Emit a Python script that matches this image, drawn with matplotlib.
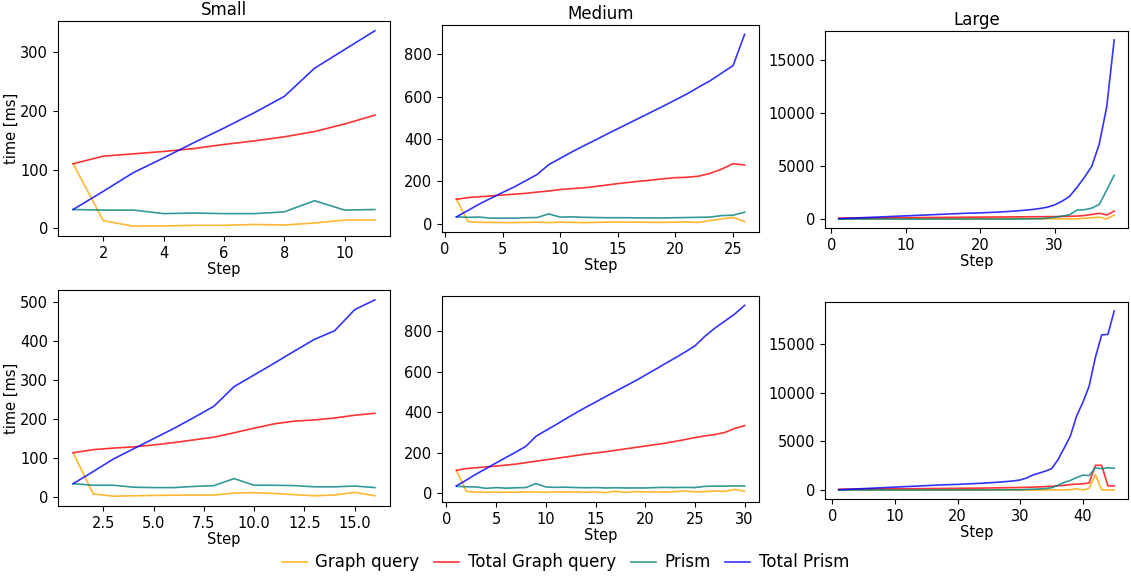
import matplotlib
matplotlib.use("Agg")
import matplotlib.pyplot as plt

plt.rcParams['font.size'] = 10.5

labels = ['Graph query', 'Total Graph query', 'Prism', 'Total Prism']
colors = ['orange', 'red', 'teal', 'blue']
titles = ['Small', 'Medium', 'Large']

# top row
small1_graph = [110, 13, 3.5, 4, 5, 5, 6.5, 5.5, 9, 14, 14]
small1_total_graph = [110, 123, 127, 131, 136, 143, 149, 156, 165, 178, 193]
small1_prism = [32, 31, 31, 25, 26, 25, 25, 28, 47, 31, 32]
small1_total_prism = [32, 63, 95, 120, 146, 171, 197, 225, 273, 305, 337]

medium1_graph = [115, 10, 6, 6, 5, 5, 6, 7, 5, 7, 6, 5, 6, 7, 8, 7, 7, 6, 6, 7, 8, 6, 15, 22, 30, 10]
medium1_total_graph = [115, 123, 127, 131, 135, 139, 143, 149, 154, 161, 165, 169, 175, 182, 189,
                       195, 201, 206, 212, 217, 219, 224, 237, 257, 283, 277]
medium1_prism = [32, 30, 31, 26, 26, 26, 28, 29, 46, 31, 32, 30, 29, 28, 28, 28, 27, 27, 27,
                 28, 29, 30, 31, 38, 40, 54]
medium1_total_prism = [32, 62, 93, 120, 147, 173, 202, 232, 278, 308, 338, 366, 393, 421, 448,
                       475, 502, 529, 556, 584, 612, 644, 674, 710, 746, 893]

large1_graph = [60, 50, 50, 50, 50, 50, 50, 50, 50, 50, 50, 50, 50, 50, 50, 50, 50, 50, 50, 50,
                50, 50, 50, 50, 50, 50, 50, 50, 50, 50, 40, 40, 50, 80, 150, 200, 20, 400]
large1_total_graph = [100, 110, 115, 120, 125, 130, 135, 140, 145, 150, 155, 160, 165, 170, 175,
                      180, 185, 190, 195, 200, 205, 210, 215, 220, 225, 230, 235, 240, 245, 250,
                      260, 280, 300, 350, 450, 560, 400, 750]
large1_prism = [20, 20, 20, 20, 20, 20, 20, 20, 20, 20, 20, 20, 20, 20, 20, 20, 20, 20, 20, 20,
                20, 20, 20, 25, 30, 35, 40, 50, 100, 180, 300, 420, 850, 900, 1050, 1400, 2750, 4150]
large1_total_prism = [50, 80, 110, 140, 170, 200, 230, 260, 290, 320, 350, 380, 410, 440, 470,
                      500, 530, 560, 580, 600, 630, 660, 700, 740, 790, 850, 920, 1010, 1130,
                      1350, 1700, 2150, 3000, 3950, 5000, 7100, 10600, 16900]

# bottom row
small2_graph = [114, 9, 3, 4, 5, 5.5, 6, 6, 11, 12, 10, 7, 4, 6, 13, 4]
small2_total_graph = [114, 122, 126, 129, 134, 140, 147, 154, 165, 177, 188, 195, 198, 203, 210, 215]
small2_prism = [35, 31, 31, 26, 25, 25, 28, 30, 48, 31, 31, 30, 27, 27, 29, 25]
small2_total_prism = [35, 66, 98, 124, 150, 176, 204, 233, 283, 313, 343, 374, 404, 426, 480, 505]

medium2_graph = [113, 9, 5, 5, 5, 5, 5, 6, 6, 4, 7, 6, 6, 5, 6, 3, 10, 4, 8, 7, 6, 6, 8, 11,
                 7, 8, 11, 9, 19, 10]
medium2_total_graph = [113, 122, 126, 130, 134, 139, 144, 151, 158, 165, 172, 179, 186, 193, 199,
                       205, 212, 219, 226, 233, 240, 247, 256, 265, 275, 283, 290, 300, 320, 334]
medium2_prism = [34, 32, 31, 24, 28, 25, 27, 28, 48, 31, 29, 30, 28, 27, 28, 26, 27, 26, 26, 26,
                 28, 29, 28, 29, 28, 34, 35, 35, 36, 36]
medium2_total_prism = [36, 65, 95, 122, 150, 177, 204, 232, 281, 310, 338, 368, 396, 424, 450,
                       477, 503, 529, 555, 583, 611, 640, 668, 697, 728, 775, 815, 850, 885, 928]

large2_graph = [20, 20, 20, 20, 20, 20, 20, 20, 20, 20, 20, 20, 20, 20, 20, 20, 20, 20, 20, 20,
                20, 20, 20, 20, 20, 20, 20, 20, 20, 20, 20, 20, 20, 20, 30, 30, 40, 60, 150, 30,
                200, 1600, 30, 30, 20]
large2_total_graph = [100, 105, 110, 115, 120, 125, 130, 135, 140, 145, 150, 155, 160, 165, 170,
                      175, 180, 185, 190, 200, 205, 210, 215, 220, 230, 240, 250, 260, 270, 280,
                      300, 320, 340, 370, 400, 450, 500, 580, 620, 650, 750, 2550, 2550, 450, 450]
large2_prism = [30, 30, 30, 30, 30, 30, 30, 30, 30, 30, 30, 30, 30, 30, 30, 30, 30, 30, 30, 30,
                35, 35, 35, 40, 40, 40, 45, 45, 50, 50, 80, 100, 130, 160, 250, 500, 800, 1000,
                1300, 1550, 1500, 2300, 2200, 2300, 2250]
large2_total_prism = [50, 80, 110, 140, 170, 200, 230, 260, 290, 320, 350, 380, 410, 440, 470,
                      500, 530, 560, 580, 600, 630, 660, 690, 720, 760, 800, 850, 900, 960, 1050,
                      1250, 1550, 1750, 1950, 2200, 3100, 4300, 5550, 7600, 9000, 10650, 13600,
                      15900, 15950, 18350]

rows = [
    [(small1_graph, small1_total_graph, small1_prism, small1_total_prism),
     (medium1_graph, medium1_total_graph, medium1_prism, medium1_total_prism),
     (large1_graph, large1_total_graph, large1_prism, large1_total_prism)],
    [(small2_graph, small2_total_graph, small2_prism, small2_total_prism),
     (medium2_graph, medium2_total_graph, medium2_prism, medium2_total_prism),
     (large2_graph, large2_total_graph, large2_prism, large2_total_prism)],
]

# axes boxes [left, bottom, width, height] in figure fractions
boxes = [
    [[0.0513, 0.5903, 0.2935, 0.3733], [0.3908, 0.5972, 0.2803, 0.3594], [0.7294, 0.6042, 0.2679, 0.3420]],
    [[0.0513, 0.1215, 0.2935, 0.3750], [0.3908, 0.1285, 0.2803, 0.3576], [0.7294, 0.1337, 0.2679, 0.3420]],
]

fig = plt.figure(figsize=(11.31, 5.76), dpi=100)

for r in range(2):
    for c in range(3):
        ax = fig.add_axes(boxes[r][c])
        series = rows[r][c]
        steps = list(range(1, len(series[0]) + 1))
        for s, lab, col in zip(series, labels, colors):
            ax.plot(steps, s, color=col, alpha=0.8, linewidth=1.2, label=lab)
        ax.set_xlabel('Step', labelpad=1)
        if c == 0:
            ax.set_ylabel('time [ms]')
            ax.yaxis.set_label_coords(-0.118, 0.5)
        if r == 0:
            ax.set_title(titles[c], fontsize=12, pad=4)

handles, labs = ax.get_legend_handles_labels()
fig.legend(handles, labs, loc='lower center', ncol=4, frameon=False,
           bbox_to_anchor=(0.5, -0.018), fontsize=12,
           handlelength=1.5, handletextpad=0.5, columnspacing=0.9)

fig.savefig('out.png', dpi=100)
